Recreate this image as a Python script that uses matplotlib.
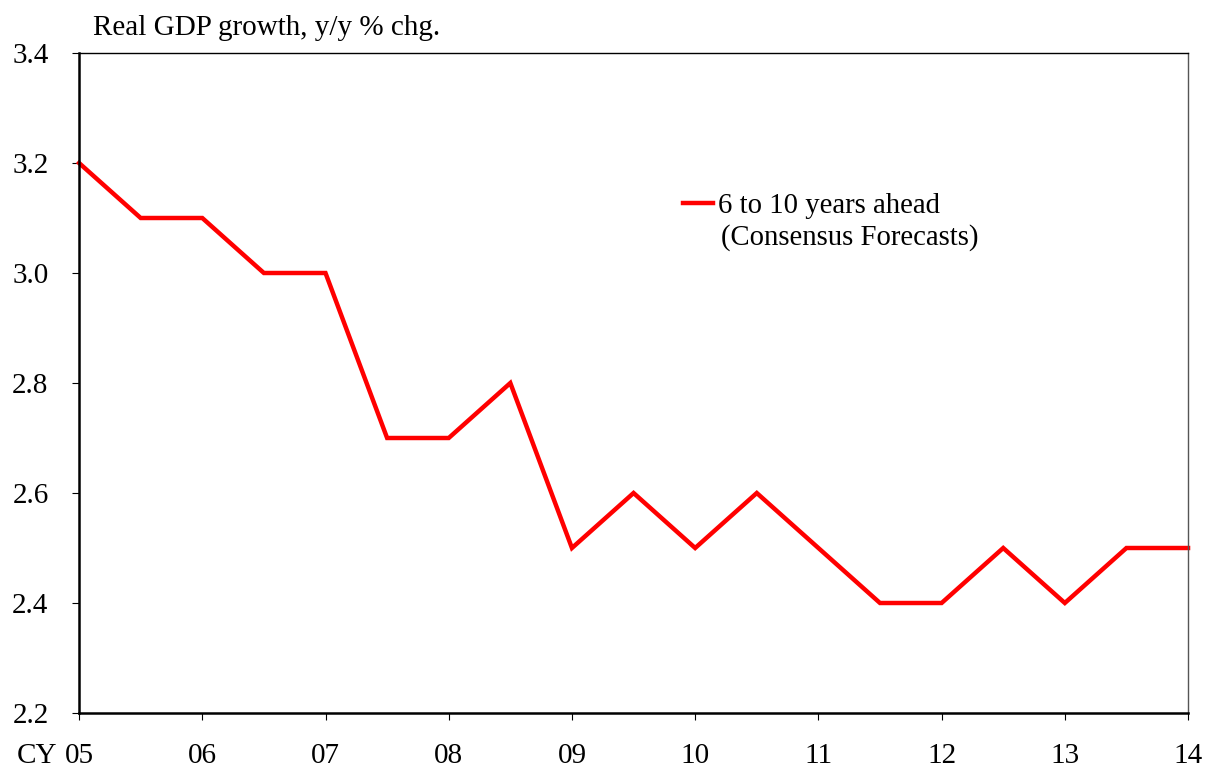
import matplotlib.pyplot as plt

plt.rcParams['font.family'] = ['Liberation Serif', 'DejaVu Serif']

# half-year steps from CY05 to CY14
periods = [5.0, 5.5, 6.0, 6.5, 7.0, 7.5, 8.0, 8.5, 9.0, 9.5,
           10.0, 10.5, 11.0, 11.5, 12.0, 12.5, 13.0, 13.5, 14.0]
growth = [3.2, 3.1, 3.1, 3.0, 3.0, 2.7, 2.7, 2.8, 2.5, 2.6,
          2.5, 2.6, 2.5, 2.4, 2.4, 2.5, 2.4, 2.5, 2.5]
year_ticks = [5, 6, 7, 8, 9, 10, 11, 12, 13, 14]
year_labels = ['05', '06', '07', '08', '09', '10', '11', '12', '13', '14']
y_ticks = [2.2, 2.4, 2.6, 2.8, 3.0, 3.2, 3.4]
series_name = '6 to 10 years ahead'
series_note = '(Consensus Forecasts)'

fig = plt.figure(figsize=(12.07, 7.67), dpi=100)
ax = fig.add_axes([0.0655, 0.0704, 0.9188, 0.8605])

ax.plot(periods, growth, color='#ff0000', lw=3.2, label=series_name,
        solid_joinstyle='miter', clip_on=False)

ax.set_xlim(5, 14)
ax.set_ylim(2.2, 3.4)
ax.set_xticks(year_ticks)
ax.set_xticklabels(year_labels)
ax.set_yticks(y_ticks)
ax.set_yticklabels(['%.1f' % v for v in y_ticks])

ax.spines['left'].set_linewidth(1.8)
ax.spines['bottom'].set_linewidth(1.8)
ax.spines['top'].set_linewidth(1.0)
ax.spines['right'].set_linewidth(1.0)
ax.spines['right'].set_color('#555555')

ax.tick_params(axis='y', direction='out', length=5, width=0.8,
               labelsize=21, pad=17)
ax.tick_params(axis='x', direction='out', length=5, width=0.8,
               labelsize=21, pad=16.5)

# "CY" prefix before the first year label
ax.text(-0.0198, -0.0758, 'CY', transform=ax.transAxes, fontsize=21,
        ha='right', va='baseline')

fig.text(0.077, 0.981, 'Real GDP growth, y/y % chg.', fontsize=21,
         ha='left', va='top')

leg = ax.legend(loc='upper left', bbox_to_anchor=(0.5446, 0.788), frameon=False,
                fontsize=20.7, handlelength=1.04, handletextpad=0.17,
                borderpad=0, borderaxespad=0)
ax.text(0.579, 0.7197, series_note, transform=ax.transAxes, fontsize=20.7,
        ha='left', va='center')

fig.savefig('out.png', dpi=100)
